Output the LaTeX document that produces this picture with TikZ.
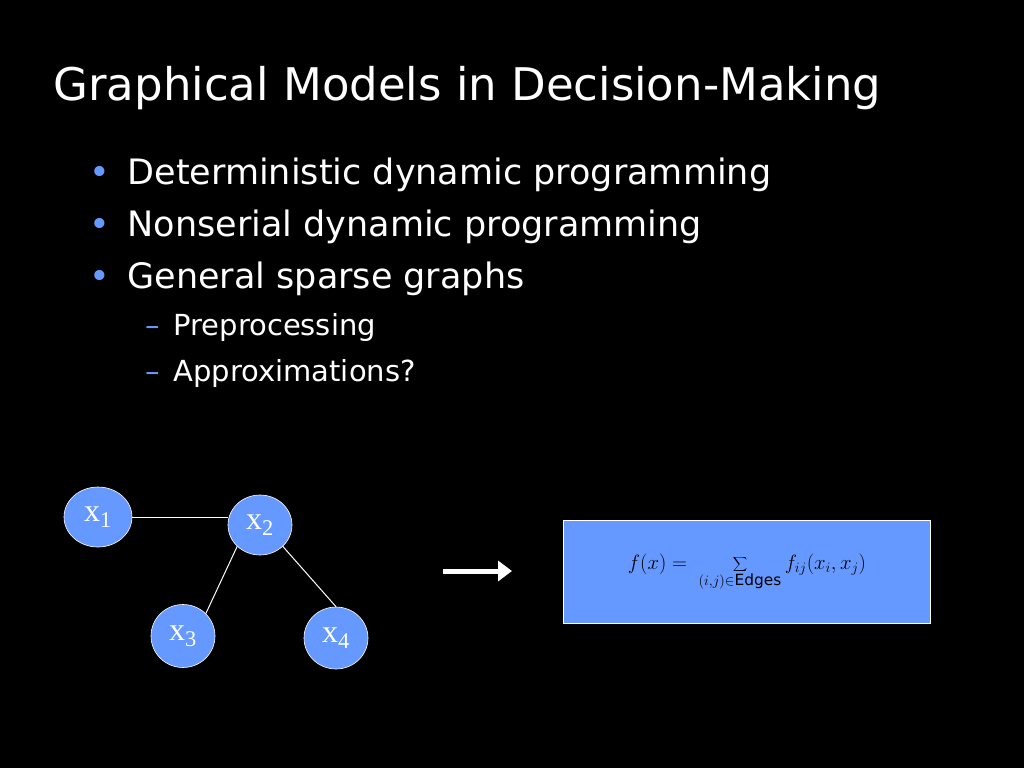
\documentclass[tikz,border=0pt]{standalone}
\usepackage{fontspec}
\setmainfont{DejaVu Sans}
\newfontfamily\tms{Liberation Serif}
\usetikzlibrary{arrows.meta,shapes.geometric}
\definecolor{nodeblue}{HTML}{6699FF}
\begin{document}
\begin{tikzpicture}[x=1pt,y=-1pt,
  vert/.style={ellipse,fill=nodeblue,draw=white,line width=0.6pt,minimum width=64pt,minimum height=60pt,inner sep=0pt,text=white,font=\tms\fontsize{32}{32}\selectfont},
  edge/.style={draw=white,line width=1pt},
  bul/.style={anchor=base west,text=white,font=\fontsize{35}{40}\selectfont},
  sub/.style={anchor=base west,text=white,font=\fontsize{29}{34}\selectfont}]
\fill[black] (0,0) rectangle (1024,768);
\node[anchor=base west,text=white,font=\fontsize{45}{50}\selectfont] (title) at (50,100) {Graphical Models in Decision-Making};
\node[bul,text=nodeblue] (b1) at (86,184) {•};
\node[bul] (t1) at (124,184) {Deterministic dynamic programming};
\node[bul,text=nodeblue] (b2) at (86,236) {•};
\node[bul] (t2) at (124,236) {Nonserial dynamic programming};
\node[bul,text=nodeblue] (b3) at (86,288) {•};
\node[bul] (t3) at (124,288) {General sparse graphs};
\node[sub,text=nodeblue] (d1) at (142,335) {–};
\node[sub] (s1) at (170,335) {Preprocessing};
\node[sub,text=nodeblue] (d2) at (142,381) {–};
\node[sub] (s2) at (170,381) {Approximations?};
\node[vert,minimum width=68pt] (x1) at (98,517) {x\textsubscript{1}};
\node[vert] (x2) at (260,525) {x\textsubscript{2}};
\node[vert,minimum height=63pt] (x3) at (183,636) {x\textsubscript{3}};
\node[vert,minimum height=62pt] (x4) at (336,638) {x\textsubscript{4}};
\draw[edge] (x1.east) -- (x1.east -| x2.west);
\draw[edge] (x2.south west) -- (x3.north east);
\draw[edge] (x2.south east) -- (x4.north);
\coordinate (a0) at (443,571);
\coordinate (a1) at (512,571);
\draw[white,line width=5pt,-{Triangle[length=14pt,width=20pt]}] (a0) -- (a1);
\node[fill=nodeblue,draw=white,line width=1pt,minimum width=367pt,minimum height=103pt,anchor=north west] (box) at (563,520) {};
\node[text=black,font=\tms\fontsize{22}{22}\selectfont] (eq) at (box.center) {$\displaystyle f(x) = \;\sum_{(i,j)\in\mathrm{Edges}} f_{ij}(x_i,x_j)$};
\end{tikzpicture}
\end{document}
